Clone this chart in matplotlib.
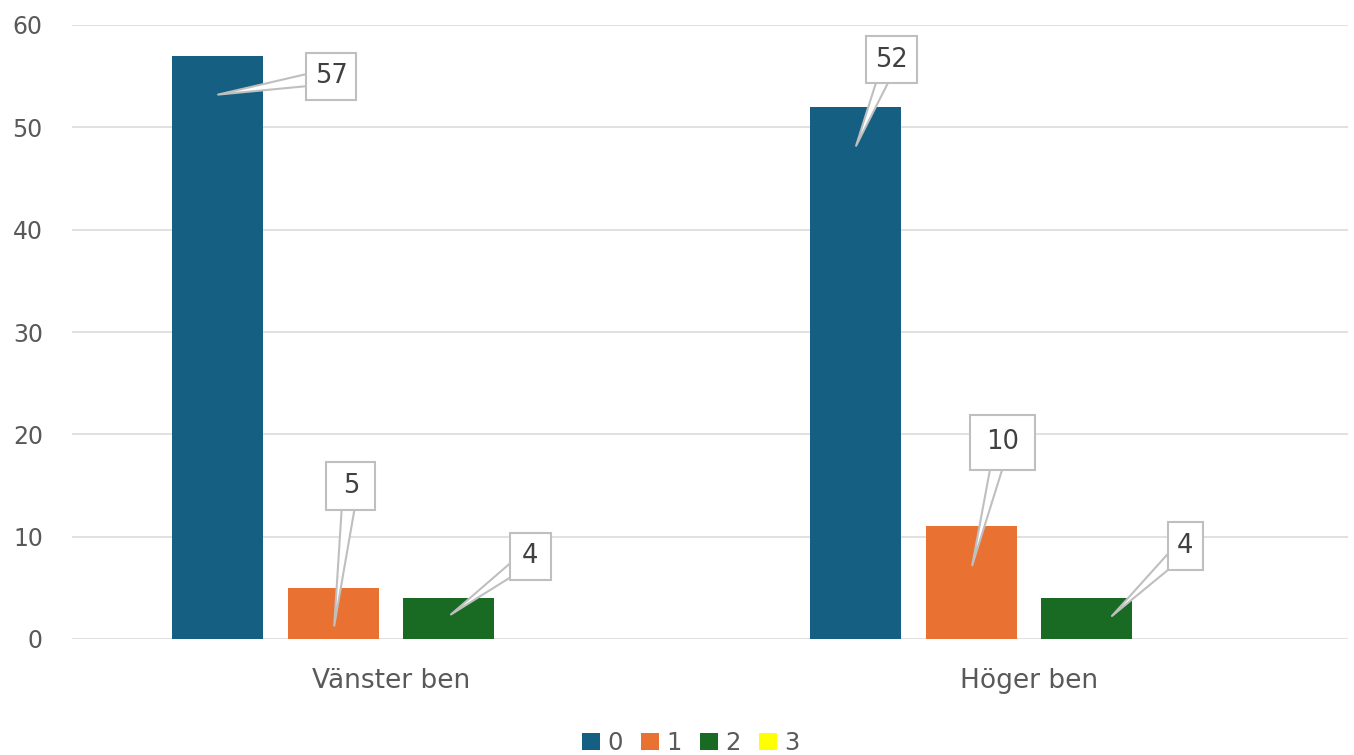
import matplotlib
matplotlib.use("Agg")
import matplotlib.pyplot as plt
from matplotlib.patches import Rectangle
from matplotlib.transforms import ScaledTranslation
import numpy as np

categories = ["Vänster ben", "Höger ben"]
series_names = ["0", "1", "2", "3"]
values_0 = [57, 52]
values_1 = [5, 11]
values_2 = [4, 4]
values_3 = [0, 0]
label_texts = [["57", "52"], ["5", "10"], ["4", "4"], [None, None]]

colors = ["#156082", "#E97132", "#196B24", "#FFFF00"]
# callout box centers (data coords) per series/category
box_pos = [[(-0.094, 55.0), (0.784, 56.6)],
           [(-0.063, 14.95), (0.959, 19.25)],
           [(0.218, 8.1), (1.245, 9.1)]]
# callout box sizes in pixels
box_size = [[(50, 47), (51, 47)],
            [(49, 48), (65, 55)],
            [(41, 47), (35, 48)]]
tip_pos = [[(-0.271, 53.2), (0.729, 48.2)],
           [(-0.089, 1.3), (0.911, 7.2)],
           [(0.094, 2.4), (1.130, 2.25)]]

plt.rcParams['font.family'] = ['DejaVu Sans']
fig = plt.figure(figsize=(13.54, 7.55), dpi=100)
ax = fig.add_axes([72/1354, 116/755, (1348-72)/1354, (639-25)/755])

all_vals = [values_0, values_1, values_2, values_3]
x = np.arange(len(categories))
slot = 0.181
width = 0.143
for i, vals in enumerate(all_vals):
    ax.bar(x + (i - 1.5) * slot, vals, width, color=colors[i], label=series_names[i], zorder=2)

edge = '#BFBFBF'
for i in range(3):
    for j in range(2):
        t = label_texts[i][j]
        if t is None:
            continue
        bx, by = box_pos[i][j]
        w, h = box_size[i][j]
        ax.annotate('', xy=tip_pos[i][j], xytext=(bx, by), textcoords='data', zorder=4,
                    arrowprops=dict(arrowstyle='wedge,tail_width=0.55', fc='white', ec=edge,
                                    lw=1.5, shrinkA=0, shrinkB=0, mutation_scale=20))
        rect = Rectangle((-w / 2, -h / 2), w, h, fc='white', ec=edge, lw=1.5,
                         transform=ScaledTranslation(bx, by, ax.transData), zorder=5)
        ax.add_patch(rect)
        ax.text(bx, by, t, ha='center', va='center', fontsize=18.5, color='#404040', zorder=6)

ax.set_xlim(-0.5, 1.5)
ax.set_ylim(0, 60)
ax.set_yticks(range(0, 61, 10))
ax.set_xticks(x)
ax.set_xticklabels(categories, fontsize=19)
ax.grid(axis='y', color='#D9D9D9', lw=1.1, zorder=0)
ax.set_axisbelow(True)
for s in ax.spines.values():
    s.set_visible(False)
ax.tick_params(axis='both', length=0, colors='#595959')
ax.tick_params(axis='y', pad=21, labelsize=17)
ax.tick_params(axis='x', pad=21)

leg = ax.legend(loc='center', bbox_to_anchor=(0.485, -0.17), ncol=4, frameon=False,
                fontsize=17.5, handlelength=0.75, handleheight=0.7, handletextpad=0.3,
                columnspacing=0.75, labelcolor='#595959')
fig.savefig("out.png", dpi=100, facecolor='white')
